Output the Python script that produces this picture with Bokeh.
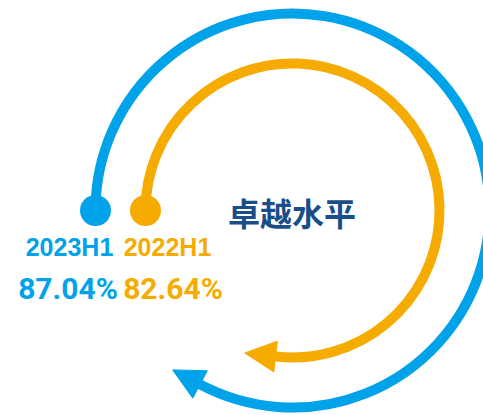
import numpy as np
from bokeh.plotting import figure
from bokeh.models import Range1d, ColumnDataSource
from bokeh.core.properties import value
from bokeh.embed import file_html
from bokeh.resources import INLINE

# ---- data ----
periods = ["2023H1", "2022H1"]
rates = [87.04, 82.64]
rate_labels = [f"{v:.2f}%" for v in rates]
center_label = "卓越水平"

# ---- style / layout ----
colors = ["#00A3E9", "#F6AB00"]
text_dark = "#1A4E8A"
W, H = 483, 415
cx, cy = 292, H - 210
radii = [197, 147]
end_deg = [-118.0, -96.6]
arrow_len = 31
arrow_hw = 15.5
ring_w = 10
label_x = [69, 167]
pct_x = [67.5, 172.5]

p = figure(width=W, height=H, x_range=Range1d(0, W), y_range=Range1d(0, H),
           output_backend="svg", toolbar_location=None, min_border=0,
           x_axis_type=None, y_axis_type=None)
p.grid.visible = False
p.outline_line_color = None
p.background_fill_color = "white"

for i in range(2):
    r = radii[i]
    th = np.radians(end_deg[i])
    p.arc(x=[cx], y=[cy], radius=r, start_angle=np.pi, end_angle=th,
          direction="clock", line_width=ring_w, line_color=colors[i], line_cap="butt")
    bx, by = cx + r * np.cos(th), cy + r * np.sin(th)
    tx, ty = np.sin(th), -np.cos(th)
    nx, ny = np.cos(th), np.sin(th)
    xs = [bx + arrow_len * tx, bx + arrow_hw * nx, bx - arrow_hw * nx]
    ys = [by + arrow_len * ty, by + arrow_hw * ny, by - arrow_hw * ny]
    p.patch(xs, ys, fill_color=colors[i], line_color=colors[i], line_width=1)
    p.scatter(x=[cx - r], y=[cy], size=31, fill_color=colors[i], line_color=None)

src = ColumnDataSource(dict(x=label_x, y=[H - 246] * 2, t=periods, c=colors))
p.text(x="x", y="y", text="t", text_color="c", source=src, text_align="center",
       text_baseline="middle", text_font=value("Liberation Sans"),
       text_font_style="bold", text_font_size="25px")

src2 = ColumnDataSource(dict(x=pct_x, y=[H - 288] * 2, t=rate_labels, c=colors))
p.text(x="x", y="y", text="t", text_color="c", source=src2, text_align="center",
       text_baseline="middle", text_font=value("Roboto"),
       text_font_style="bold", text_font_size="30px")

p.text(x=[291.5], y=[H - 211], text=[center_label], text_color=text_dark,
       text_align="center", text_baseline="middle",
       text_font=value("Noto Sans CJK SC"), text_font_style="bold",
       text_font_size="32px")

open("out.html", "w").write(file_html(p, INLINE))
